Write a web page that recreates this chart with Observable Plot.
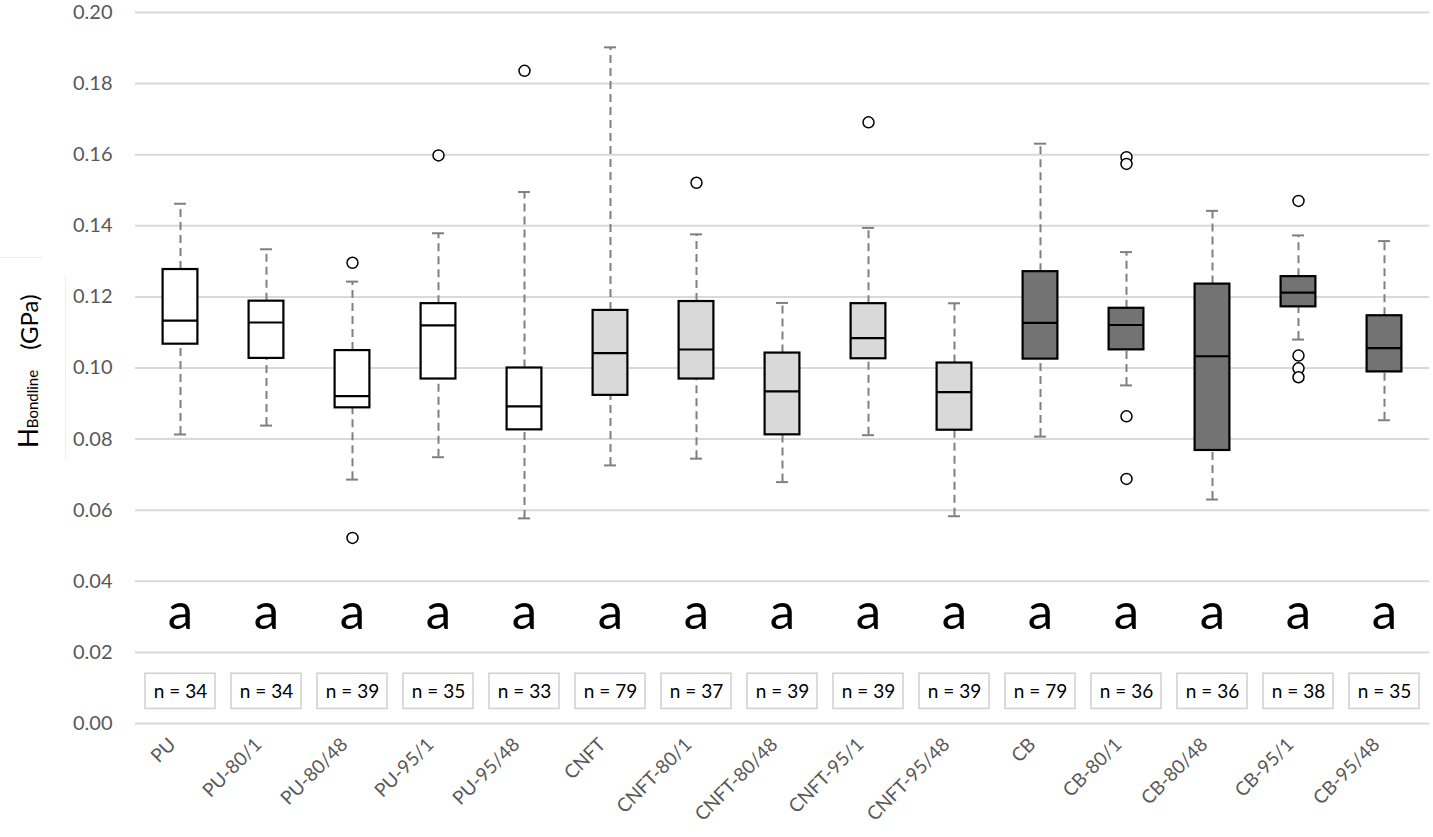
<!DOCTYPE html>
<html>
<head>
<meta charset="utf-8">
<script src="https://cdn.jsdelivr.net/npm/d3@7"></script>
<script src="https://cdn.jsdelivr.net/npm/@observablehq/plot@0.6"></script>
<style>
  html, body { margin: 0; padding: 0; background: #ffffff; }
  #chart { width: 1433px; height: 837px; }
</style>
</head>
<body>
<div id="chart"></div>
<script>
const categories = ["PU","PU-80/1","PU-80/48","PU-95/1","PU-95/48","CNFT","CNFT-80/1","CNFT-80/48","CNFT-95/1","CNFT-95/48","CB","CB-80/1","CB-80/48","CB-95/1","CB-95/48"];
const groups = ["PU","PU","PU","PU","PU","CNFT","CNFT","CNFT","CNFT","CNFT","CB","CB","CB","CB","CB"];
const whiskerLow  = [0.0813,0.0838,0.0686,0.0749,0.0577,0.0726,0.0745,0.0679,0.0811,0.0583,0.0807,0.0951,0.0630,0.1080,0.0853];
const q1          = [0.1067,0.1027,0.0888,0.0969,0.0826,0.0923,0.0969,0.0812,0.1026,0.0825,0.1025,0.1051,0.0768,0.1172,0.0989];
const median      = [0.1133,0.1128,0.0921,0.1120,0.0892,0.1042,0.1052,0.0934,0.1084,0.0932,0.1127,0.1121,0.1033,0.1212,0.1056];
const q3          = [0.1277,0.1188,0.1049,0.1181,0.1000,0.1162,0.1187,0.1042,0.1181,0.1014,0.1271,0.1168,0.1236,0.1257,0.1147];
const whiskerHigh = [0.1462,0.1334,0.1243,0.1379,0.1495,0.1902,0.1376,0.1183,0.1394,0.1182,0.1631,0.1326,0.1442,0.1373,0.1357];
const nCounts     = [34,34,39,35,33,79,37,39,39,39,79,36,36,38,35];
const letters     = ["a","a","a","a","a","a","a","a","a","a","a","a","a","a","a"];
const outlierCats   = ["PU-80/48","PU-80/48","PU-95/1","PU-95/48","CNFT-80/1","CNFT-95/1","CB-80/1","CB-80/1","CB-80/1","CB-80/1","CB-95/1","CB-95/1","CB-95/1","CB-95/1"];
const outlierValues = [0.1296,0.0522,0.1598,0.1836,0.1521,0.1691,0.1593,0.1574,0.0864,0.0688,0.1470,0.1035,0.0999,0.0974];
const yTicks = [0,0.02,0.04,0.06,0.08,0.10,0.12,0.14,0.16,0.18,0.20];

const rows = categories.map((c, i) => ({
  cat: c, group: groups[i], lo: whiskerLow[i], q1: q1[i], med: median[i],
  q3: q3[i], hi: whiskerHigh[i], n: nCounts[i], letter: letters[i]
}));
const outRows = outlierCats.map((c, i) => ({cat: c, v: outlierValues[i]}));

const FONT = "Lato, 'Open Sans', sans-serif";
const boxInset = 25.6;
const capInset = 37;

const plot = Plot.plot({
  width: 1433,
  height: 837,
  marginLeft: 135,
  marginRight: 4,
  marginTop: 12,
  marginBottom: 114,
  style: { fontFamily: FONT, background: "white", overflow: "visible" },
  x: { domain: categories, padding: 0, label: null },
  y: { domain: [0, 0.2], label: null },
  color: { domain: ["PU","CNFT","CB"], range: ["#ffffff","#d9d9d9","#737373"] },
  marks: [
    Plot.ruleY(yTicks, { stroke: "#d9d9d9", strokeWidth: 2 }),
    Plot.ruleX(rows, { x: "cat", y1: "q3", y2: "hi", stroke: "#808080", strokeWidth: 2, strokeDasharray: "8,5" }),
    Plot.ruleX(rows, { x: "cat", y1: "lo", y2: "q1", stroke: "#808080", strokeWidth: 2, strokeDasharray: "8,5" }),
    Plot.tickY(rows, { x: "cat", y: "hi", stroke: "#808080", strokeWidth: 2, insetLeft: capInset, insetRight: capInset }),
    Plot.tickY(rows, { x: "cat", y: "lo", stroke: "#808080", strokeWidth: 2, insetLeft: capInset, insetRight: capInset }),
    Plot.barY(rows, { x: "cat", y1: "q1", y2: "q3", fill: "group", stroke: "#000000", strokeWidth: 2.2, insetLeft: boxInset, insetRight: boxInset }),
    Plot.tickY(rows, { x: "cat", y: "med", stroke: "#000000", strokeWidth: 2.2, insetLeft: boxInset, insetRight: boxInset }),
    Plot.dot(outRows, { x: "cat", y: "v", r: 5.5, stroke: "#000000", strokeWidth: 1.5, fill: "white" }),
    Plot.text(rows, { x: "cat", y: () => 0.0312, text: "letter", fontSize: 51, fill: "#000000" }),
    Plot.barY(rows, { x: "cat", y1: () => 0.0041, y2: () => 0.0140, fill: "white", stroke: "#d0d0d0", strokeWidth: 1.5, insetLeft: 8, insetRight: 8 }),
    Plot.text(rows, { x: "cat", y: () => 0.009, text: d => `n = ${d.n}`, fontSize: 19, fill: "#000000" }),
    Plot.axisY({ ticks: yTicks, tickSize: 0, tickPadding: 23, fontSize: 20, fill: "#595959", tickFormat: d => d.toFixed(2), label: null }),
    Plot.axisX({ tickRotate: -45, tickSize: 0, tickPadding: 18, dx: -8, fontSize: 19, fill: "#595959", label: null })
  ]
});

document.getElementById("chart").appendChild(plot);

// y-axis title with subscript
const svg = d3.select(plot);
svg.append("line").attr("x1", 0).attr("x2", 43).attr("y1", 257.5).attr("y2", 257.5).attr("stroke", "#eeeeee").attr("stroke-width", 1);
svg.append("line").attr("x1", 65.5).attr("x2", 65.5).attr("y1", 275).attr("y2", 460).attr("stroke", "#eeeeee").attr("stroke-width", 1);
const t = svg.append("text")
  .attr("transform", "translate(38,448) rotate(-90)")
  .attr("font-family", FONT)
  .attr("fill", "#000000")
  .attr("text-anchor", "start");
t.append("tspan").attr("font-size", 26).text("H");
t.append("tspan").attr("font-size", 15).text("Bondline");
t.append("tspan").attr("font-size", 24).attr("dx", 20).text("(GPa)");
</script>
</body>
</html>
